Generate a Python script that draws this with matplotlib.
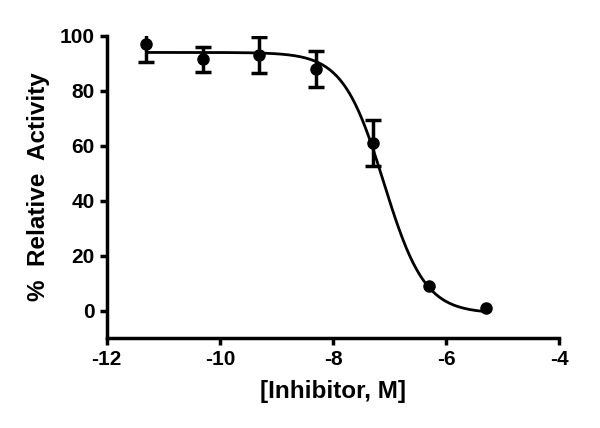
import numpy as np
import matplotlib
matplotlib.use("Agg")
import matplotlib.pyplot as plt

log_conc = [-11.3, -10.3, -9.3, -8.3, -7.3, -6.3, -5.3]
activity = [97.0, 91.5, 93.0, 88.0, 61.0, 9.0, 1.0]
err = [6.5, 4.5, 6.6, 6.6, 8.4, 0.0, 0.0]

# fitted curve parameters
top, bottom, log_ic50, hill = 94.0, -1.0, -7.1, 1.2

plt.rcParams['font.family'] = ['Liberation Sans', 'DejaVu Sans']
plt.rcParams['font.weight'] = 'bold'
plt.rcParams['axes.unicode_minus'] = False

fig = plt.figure(figsize=(6, 4.28), dpi=100)
ax = fig.add_axes([0.178, 0.21, 0.754, 0.706])

xf = np.linspace(min(log_conc), max(log_conc), 300)
yf = bottom + (top - bottom) / (1 + 10 ** ((xf - log_ic50) * hill))
ax.plot(xf, yf, color='black', lw=2)

xe = [x for x, e in zip(log_conc, err) if e > 0]
ye = [y for y, e in zip(activity, err) if e > 0]
ee = [e for e in err if e > 0]
ax.errorbar(xe, ye, yerr=ee, fmt='none', ecolor='black',
            elinewidth=2.5, capsize=6, capthick=2.5)
ax.plot(log_conc, activity, 'o', color='black', ms=8, clip_on=False)

ax.set_xlim(-12, -4)
ax.set_ylim(-10, 100)
ax.set_xticks([-12, -10, -8, -6, -4])
ax.set_yticks([0, 20, 40, 60, 80, 100])
for s in ['top', 'right']:
    ax.spines[s].set_visible(False)
for s in ['left', 'bottom']:
    ax.spines[s].set_linewidth(2.5)
ax.tick_params(width=2.5, length=5, labelsize=15, direction='out')
for lab in ax.get_xticklabels() + ax.get_yticklabels():
    lab.set_fontweight('bold')
ax.set_xlabel('[Inhibitor, M]', fontsize=17.5, fontweight='bold', labelpad=8)
ax.set_ylabel('%  Relative  Activity', fontsize=17.5, fontweight='bold', labelpad=7)

fig.savefig('out.png', dpi=100)
